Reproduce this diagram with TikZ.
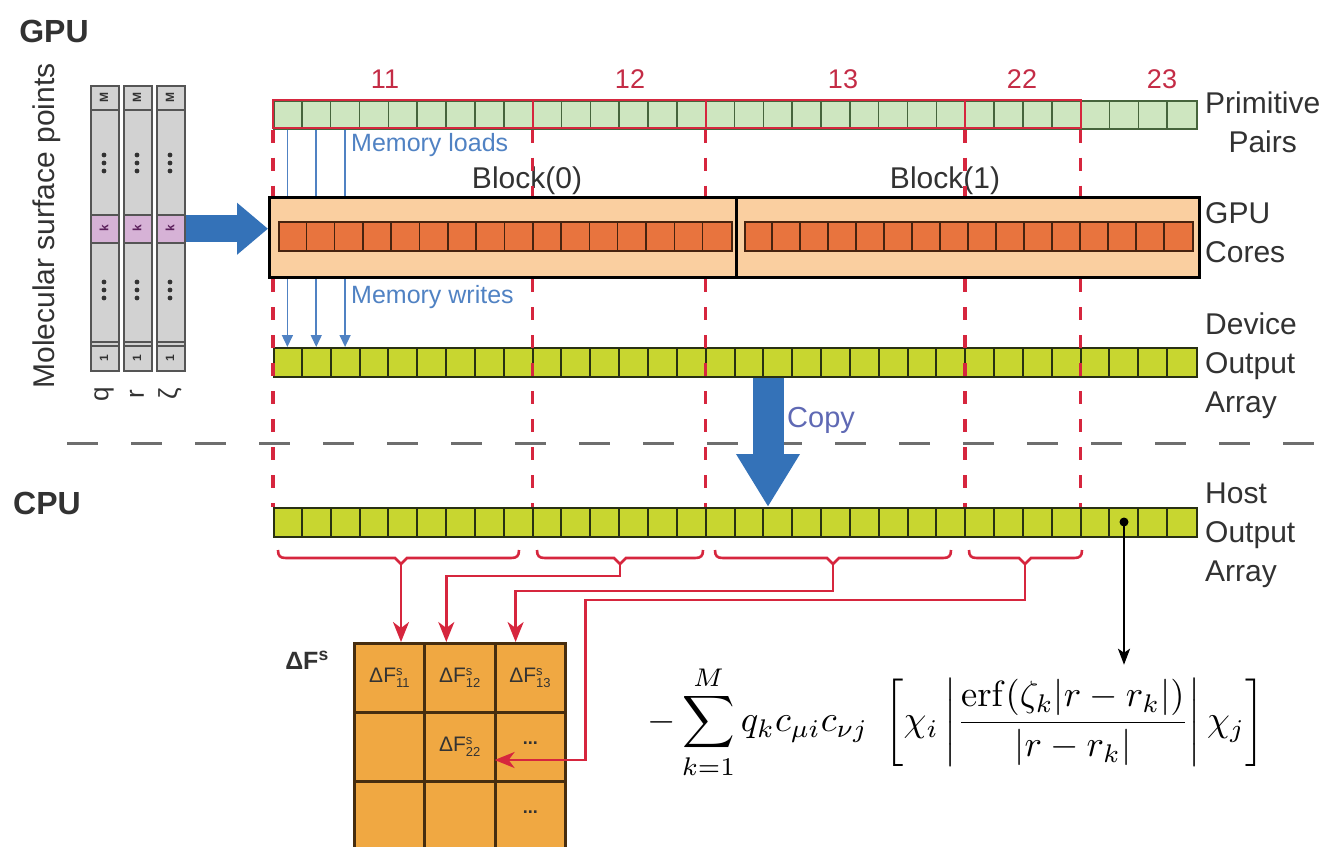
\documentclass[tikz,border=0pt]{standalone}
\usepackage[no-math]{fontspec}
\setmainfont{Liberation Sans}
\usepackage{graphicx}
\usetikzlibrary{arrows.meta,calc}
\definecolor{ppfill}{RGB}{206,230,192}
\definecolor{ppborder}{RGB}{70,100,60}
\definecolor{redc}{RGB}{214,38,62}
\definecolor{numred}{RGB}{196,44,70}
\definecolor{boxfill}{RGB}{250,207,160}
\definecolor{corefill}{RGB}{232,116,62}
\definecolor{coreborder}{RGB}{70,35,15}
\definecolor{outfill}{RGB}{200,214,48}
\definecolor{outborder}{RGB}{40,48,18}
\definecolor{bigblue}{RGB}{52,114,184}
\definecolor{thinblue}{RGB}{80,130,195}
\definecolor{matfill}{RGB}{240,168,66}
\definecolor{matborder}{RGB}{70,45,15}
\definecolor{colfill}{RGB}{210,210,210}
\definecolor{colborder}{RGB}{85,85,85}
\definecolor{kfill}{RGB}{214,178,214}
\definecolor{klab}{RGB}{90,30,90}
\definecolor{labgray}{RGB}{50,50,50}
\definecolor{dashgray}{RGB}{110,110,110}
\definecolor{copyc}{RGB}{95,105,180}
\newcommand\fsz[1]{\fontsize{#1}{#1}\selectfont}
\newcommand\fszb[2]{\fontsize{#1}{#2}\selectfont}
\newcommand\dF[1]{ΔF$^{\mbox{\fsz{13}s}}_{\mbox{\fsz{13}#1}}$}
\newcommand\redbrace[4]{%
  \draw[redbr] (#1,550) .. controls (#1,556) and (#1+2,558) .. (#1+8,558) -- (#3-6,558) -- (#3,564) -- (#3+6,558) -- (#2-8,558) .. controls (#2-2,558) and (#2,556) .. (#2,550);
  \coordinate (#4) at (#3,564);}
\begin{document}
\begin{tikzpicture}[x=1pt,y=-1pt,
  txt/.style={text=labgray, inner sep=0pt},
  rlab/.style={txt, font=\fszb{30}{39}, anchor=west},
  colbox/.style={draw=colborder, fill=colfill, line width=1.5pt, minimum width=28pt, minimum height=285pt, inner sep=0pt},
  kcell/.style={draw=colborder, fill=kfill, line width=1.5pt, minimum width=28pt, minimum height=28pt, inner sep=0pt},
  colline/.style={draw=colborder, line width=1.5pt},
  collab/.style={txt, rotate=90, font=\bfseries\fsz{12}},
  arr/.style={minimum height=29pt, minimum width=923pt, inner sep=0pt, anchor=north west},
  boxst/.style={draw=black, fill=boxfill, line width=3pt, minimum height=80pt, inner sep=0pt, anchor=north west},
  corerow/.style={draw=coreborder, fill=corefill, line width=1.5pt, minimum height=29pt, inner sep=0pt, anchor=north west},
  reddash/.style={draw=redc, line width=3.5pt, dash pattern=on 13pt off 15pt},
  graydash/.style={draw=dashgray, line width=3pt, dash pattern=on 31pt off 33pt},
  thinline/.style={draw=thinblue, line width=1.5pt},
  redbr/.style={draw=redc, line width=2.6pt},
  redarr/.style={draw=redc, line width=2.4pt, -{Stealth[length=20pt,width=16pt,inset=6pt]}},
  mcell/.style={draw=matborder, fill=matfill, line width=3pt, minimum width=70.3pt, minimum height=69pt, inner sep=0pt, anchor=north west},
  numlab/.style={text=numred, font=\fsz{27}, inner sep=0pt}
]
\useasboundingbox (0,0) rectangle (1333,846);
\clip (0,0) rectangle (1333,846);

% ---- titles
\node[txt, font=\bfseries\fsz{32}] (gpu) at (54,31) {GPU};
\node[txt, font=\bfseries\fsz{32}] (cpu) at (47,503) {CPU};
\node[txt, rotate=90, font=\fsz{30}] (msp) at (47,226) {Molecular surface points};

% ---- molecular surface point columns
\foreach \cx/\nm/\lab in {90/q/q,123/r/r,156/z/ζ}{
  \node[colbox, anchor=north west] (col\nm) at (\cx,85) {};
  \draw[colline] (\cx,110) -- ++(28,0);
  \node[kcell, anchor=north west] (k\nm) at (\cx,214) {};
  \draw[colline] (\cx,342) -- ++(28,0);
  \draw[colline] (\cx,346) -- ++(28,0);
  \node[collab] at (\cx+14,97.5) {M};
  \node[collab, text=klab] at (\cx+14,228) {k};
  \node[collab] at (\cx+14,358) {1};
  \foreach \yy in {155,163,171,282,290,298} \fill[labgray] (\cx+14,\yy) circle (2.4);
  \node[txt, rotate=90, font=\fsz{26}] at (\cx+14,394) {\lab};
}

% ---- primitive pairs
\node[arr, fill=ppfill, draw=ppborder, line width=1.5pt, minimum height=28pt] (pp) at (273,100) {};
\foreach \i in {1,...,31} \draw[ppborder, line width=1.5pt] (273+\i*28.844,100) -- ++(0,28);
\draw[redc, line width=2.2pt] (273,100) rectangle (1080.6,128);
\foreach \gx in {532.6,705.7,965.0} \draw[redc, line width=2.2pt] (\gx,100) -- ++(0,28);
\node[numlab] at (385,79) {11};
\node[numlab] at (630,79) {12};
\node[numlab] at (843,79) {13};
\node[numlab] at (1022,79) {22};
\node[numlab] at (1162,79) {23};

% ---- GPU cores
\node[boxst, minimum width=467pt] (box0) at (268,196) {};
\node[boxst, minimum width=463pt] (box1) at (735,196) {};
\node[corerow, minimum width=453pt] (core0) at (278,221) {};
\foreach \i in {1,...,15} \draw[coreborder, line width=1.5pt] (278+\i*28.31,221) -- ++(0,29);
\node[corerow, minimum width=448pt] (core1) at (744,221) {};
\foreach \i in {1,...,15} \draw[coreborder, line width=1.5pt] (744+\i*28,221) -- ++(0,29);
\node[txt, font=\fsz{30}] (b0) at (527,181) {Block(0)};
\node[txt, font=\fsz{30}] (b1) at (945,181) {Block(1)};

% ---- output arrays
\node[arr, fill=outfill, draw=outborder, line width=2pt] (dev) at (273,347) {};
\foreach \i in {1,...,31} \draw[outborder, line width=2pt] (273+\i*28.844,347) -- ++(0,29);
\node[arr, fill=outfill, draw=outborder, line width=2pt] (host) at (273,507) {};
\foreach \i in {1,...,31} \draw[outborder, line width=2pt] (273+\i*28.844,507) -- ++(0,29);

% ---- right labels
\node[rlab, align=center] at (1205,122) {Primitive\\Pairs};
\node[rlab, align=left] at (1205,233) {GPU\\Cores};
\node[rlab, align=left] at (1205,366) {Device\\Output\\Array};
\node[rlab, align=left] at (1205,535) {Host\\Output\\Array};

% ---- memory loads / writes
\foreach \i in {0,1,2}{
  \coordinate (m\i) at (287.4+\i*28.844,0);
  \draw[thinline] (m\i |- pp.south) -- (m\i |- box0.north);
  \draw[thinline, -{Triangle[length=12pt,width=11pt]}] (m\i |- box0.south) -- (m\i |- dev.north);
}
\node[text=thinblue, font=\fsz{25}, inner sep=0pt, anchor=west] (ml) at (351,145) {Memory loads};
\node[text=thinblue, font=\fsz{25}, inner sep=0pt, anchor=west] (mw) at (351,297) {Memory writes};

% ---- separators
\draw[graydash] (67,443) -- (1320,443);
\foreach \gx in {273,532.6,705.7,965.0,1080.6}{
  \coordinate (g) at (\gx,0);
  \draw[reddash] (g |- pp.south) -- (g |- box0.north);
  \draw[reddash] (g |- box0.south) -- (g |- host.north);
}

% ---- big arrows
\draw[bigblue, line width=27pt, -{Triangle[length=31pt,width=50pt]}] (colz.east |- kz) -- (box0.west |- kz);
\coordinate (cp) at (768,0);
\draw[bigblue, line width=31pt, -{Triangle[length=53pt,width=60pt]}] (cp |- dev.south) -- (cp |- host.north);
\node[text=copyc, font=\fsz{29}, inner sep=0pt, anchor=west] (copy) at (787,420) {Copy};

% ---- matrix
\foreach \r in {1,2,3}{\foreach \c in {1,2,3}{
  \node[mcell] (m\r\c) at (353+\c*70.3-70.3, 642+\r*69-69) {};
}}
\node[txt, font=\fsz{21}, text=black!80] at (m11) {\dF{11}};
\node[txt, font=\fsz{21}, text=black!80] at (m12) {\dF{12}};
\node[txt, font=\fsz{21}, text=black!80] at (m13) {\dF{13}};
\node[txt, font=\fsz{21}, text=black!80] at (m22) {\dF{22}};
\node[txt, font=\bfseries\fsz{18}] at ($(m23)+(0,-4)$) {...};
\node[txt, font=\bfseries\fsz{18}] at ($(m33)+(0,-4)$) {...};
\node[txt, font=\bfseries\fsz{25}] (dFs) at (307,660) {ΔF\textsuperscript{s}};

% ---- braces and red connectors
\redbrace{278}{519}{401}{t11}
\redbrace{537}{703}{620}{t12}
\redbrace{715}{951}{833}{t13}
\redbrace{969}{1082}{1025}{t22}
\coordinate (e11) at (t11 |- m11.north);
\coordinate (e12) at ($(m12.north west)+(23,0)$);
\coordinate (e13) at ($(m13.north west)+(22,0)$);
\coordinate (e22) at ($(m22.south east)+(-2,-23)$);
\draw[redarr] (t11) -- (e11);
\draw[redarr] (t12) -- ++(0,12) -| (e12);
\draw[redarr] (t13) -- ++(0,27) -| (e13);
\draw[redarr] (t22) -- ++(0,36) -| ($(e22)+(91,0)$) -- (e22);

% ---- formula
\node[inner sep=0pt] (fml) at (956,722) {\resizebox{617pt}{!}{$\displaystyle -\sum_{k=1}^{M} q_k c_{\mu i} c_{\nu j}\;\left[\chi_i\left|\frac{\mathrm{erf}(\zeta_k|r-r_k|)}{|r-r_k|}\right|\chi_j\right]$}};
\coordinate (dot) at (1124,522);
\fill[black] (dot) circle (4.5);
\draw[black, line width=2.2pt, -{Stealth[length=16pt,width=12pt,inset=4pt]}] (dot) -- (dot |- fml.north);
\end{tikzpicture}
\end{document}
